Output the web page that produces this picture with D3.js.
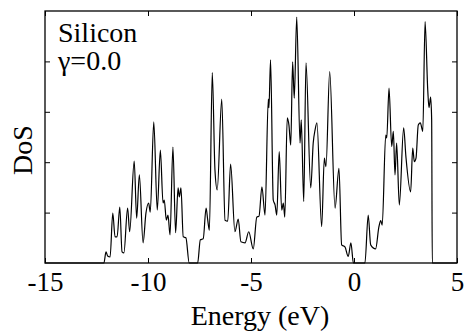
<!DOCTYPE html>
<html>
<head>
<meta charset="utf-8">
<script src="https://cdn.jsdelivr.net/npm/d3@7"></script>
<style>
  html, body { margin: 0; padding: 0; background: #fff; }
  svg text.lbl { font-family: "Liberation Serif", "Times New Roman" !important; fill: #000; }
</style>
</head>
<body>
<div id="chart"></div>
<script>
// values
const energy = [-15, -12.18, -12.14, -12.04, -11.96, -11.84, -11.71, -11.60, -11.50, -11.37, -11.26, -11.17,
  -10.99, -10.89, -10.67, -10.55, -10.42, -10.24, -10.10, -9.97, -9.89, -9.72, -9.55, -9.40, -9.27, -9.21,
  -9.11, -9.03, -8.93, -8.79, -8.66, -8.54, -8.48, -8.40, -8.29, -8.16, -8.00,
  -7.59, -7.46, -7.32, -7.18, -7.10, -7.02, -6.88, -6.75, -6.64, -6.42, -6.26, -6.13, -5.99, -5.78, -5.62,
  -5.49, -5.29, -5.11, -4.89, -4.72, -4.61, -4.47, -4.32, -4.16, -4.13, -4.05, -3.92, -3.83, -3.75, -3.63,
  -3.51, -3.43, -3.36, -3.24, -3.16, -3.07, -2.98, -2.90, -2.78, -2.62, -2.56, -2.44, -2.33, -2.10, -1.98,
  -1.89, -1.80, -1.57, -1.44, -1.36, -1.18, -0.92, -0.73, -0.60, -0.44, -0.28, -0.15, -0.03,
  0.53, 0.69, 0.81, 1.05, 1.21, 1.30, 1.37, 1.54, 1.59, 1.70, 1.83, 1.91, 1.99, 2.07, 2.20, 2.41, 2.52,
  2.75, 2.85, 2.93, 3.01, 3.12, 3.22, 3.34, 3.45, 3.58, 3.64, 3.72, 3.77, 3.80, 5];
const dos = [0, 0, 0, 0.22, 0.14, 0.12, 0.99, 0.52, 0.52, 1.11, 0.22, 0.20,
  1.09, 0.62, 2.02, 0.89, 1.75, 0.40, 0.99, 1.19, 1.01, 2.80, 1.05, 2.24, 1.19, 1.25,
  0.85, 0.95, 0.56, 2.30, 0.60, 1.49, 1.31, 1.49, 0.52, 0.50, 0,
  0, 0.46, 0.48, 1.09, 0.85, 0.65, 3.78, 1.85, 1.45, 3.25, 0.85, 0.83, 1.96, 0.62, 0.87,
  0.42, 0.40, 0.62, 0.28, 0.91, 0.93, 1.51, 0.95, 3.25, 3.08, 4.03, 1.25, 1.15, 0.95, 2.21,
  1.05, 1.19, 0.91, 2.88, 2.74, 2.34, 3.99, 3.27, 4.88, 2.38, 2.84, 1.22, 3.97, 1.49, 2.38,
  2.64, 2.78, 0.72, 2.08, 1.91, 3.80, 1.09, 1.88, 0.36, 0.32, 0.13, 0.40, 0,
  0, 0.95, 0.36, 0.28, 0.72, 0.84, 0.75, 2.54, 2.48, 3.47, 2.31, 2.61, 1.75, 2.38, 1.15, 2.68, 2.11,
  1.41, 2.28, 2.01, 2.08, 2.74, 2.78, 2.61, 4.79, 3.43, 3.08, 3.29, 2.84, 0, 0];
const xTicks = [-15, -10, -5, 0, 5];
const yTicks = [1, 2, 3, 4];
const xLabel = "Energy (eV)";
const yLabel = "DoS";
const notes = ["Silicon", "\u03b3=0.0"];

const width = 464;
const height = 332;
const plotLeft = 45, plotRight = 457, plotTop = 11, plotBottom = 263;
const serif = "Liberation Serif";

const svg = d3.select("#chart")
  .append("svg")
    .attr("width", width)
    .attr("height", height)
    .attr("font-family", serif);

const x = d3.scaleLinear().domain([-15, 5]).range([plotLeft, plotRight]);
const y = d3.scaleLinear().domain([0, 5]).range([plotBottom, plotTop]);

const points = energy.map((e, i) => [e, dos[i]]);

const line = d3.line()
  .x(d => x(d[0]))
  .y(d => y(d[1]))
  .curve(d3.curveMonotoneX);

svg.append("path")
  .datum(points)
  .attr("fill", "none")
  .attr("stroke", "#000")
  .attr("stroke-width", 1.2)
  .attr("stroke-linejoin", "round")
  .attr("d", line);

// inward ticks on all four sides
const tickLen = 5;
svg.append("g")
  .attr("transform", `translate(0,${plotBottom})`)
  .call(d3.axisBottom(x).tickValues(xTicks).tickSize(-tickLen).tickPadding(9).tickFormat(d => String(d)))
  .call(g => g.attr("font-family", serif).attr("font-size", 27))
  .call(g => g.select(".domain").remove())
  .call(g => g.selectAll("text").attr("class", "lbl").attr("font-family", serif));

svg.append("g")
  .attr("transform", `translate(0,${plotTop})`)
  .call(d3.axisTop(x).tickValues(xTicks).tickSize(-tickLen).tickFormat(""))
  .call(g => g.select(".domain").remove());

svg.append("g")
  .attr("transform", `translate(${plotLeft},0)`)
  .call(d3.axisLeft(y).tickValues(yTicks).tickSize(-tickLen).tickFormat(""))
  .call(g => g.select(".domain").remove());

svg.append("g")
  .attr("transform", `translate(${plotRight},0)`)
  .call(d3.axisRight(y).tickValues(yTicks).tickSize(-tickLen).tickFormat(""))
  .call(g => g.select(".domain").remove());

svg.append("rect")
  .attr("x", plotLeft)
  .attr("y", plotTop)
  .attr("width", plotRight - plotLeft)
  .attr("height", plotBottom - plotTop)
  .attr("fill", "none")
  .attr("stroke", "#000")
  .attr("stroke-width", 1.3);

svg.append("text")
  .attr("class", "lbl")
  .attr("x", 260)
  .attr("y", 325)
  .attr("text-anchor", "middle")
  .attr("font-size", 28)
  .text(xLabel);

svg.append("text")
  .attr("class", "lbl")
  .attr("transform", `translate(32,${(plotTop + plotBottom) / 2 + 13}) rotate(-90)`)
  .attr("text-anchor", "middle")
  .attr("font-size", 28)
  .text(yLabel);

notes.forEach((t, i) => {
  svg.append("text")
    .attr("class", "lbl")
    .attr("x", 58)
    .attr("y", 42 + i * 28)
    .attr("font-size", 28)
    .text(t);
});
</script>
</body>
</html>
